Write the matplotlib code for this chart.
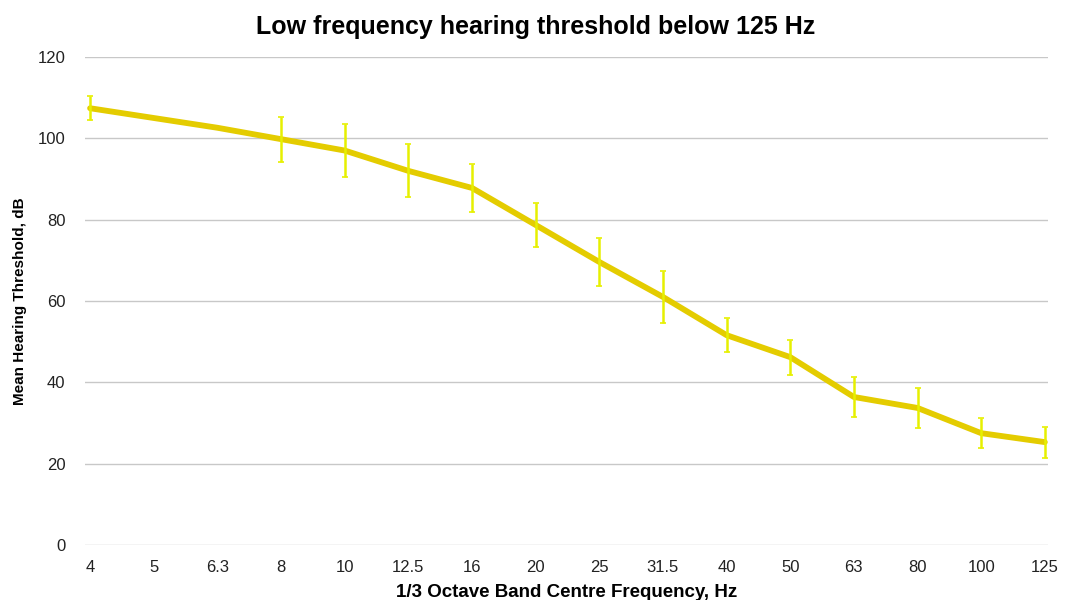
import matplotlib
matplotlib.use('Agg')
import matplotlib.pyplot as plt

plt.rcParams['font.family'] = ['Liberation Sans', 'DejaVu Sans']

# 1/3 octave band centre frequencies and mean thresholds
freq_labels = ['4', '5', '6.3', '8', '10', '12.5', '16', '20', '25', '31.5',
               '40', '50', '63', '80', '100', '125']
threshold = [107.4, 105.0, 102.6, 99.8, 97.0, 92.0, 87.8, 78.7, 69.6, 61.0,
             51.6, 46.2, 36.4, 33.7, 27.5, 25.3]
# error bar half-widths; no bars shown at 5 and 6.3 Hz
err = [3.0, None, None, 5.5, 6.5, 6.5, 6.0, 5.4, 6.0, 6.4,
       4.2, 4.3, 5.0, 5.0, 3.7, 3.8]

x = list(range(len(freq_labels)))

fig = plt.figure(figsize=(10.67, 6), dpi=100)
ax = fig.add_axes([85 / 1067, 55 / 600, 963 / 1067, 488 / 600])

# gridlines
ax.set_yticks(range(0, 121, 20))
ax.yaxis.grid(True, color='#c8c8c8', linewidth=1)
ax.set_axisbelow(True)

# main line
ax.plot(x, threshold, color='#e4cc00', linewidth=4.2, solid_joinstyle='round',
        solid_capstyle='round', zorder=3)

# error bars
ex = [xi for xi, e in zip(x, err) if e is not None]
ey = [t for t, e in zip(threshold, err) if e is not None]
ee = [e for e in err if e is not None]
ax.errorbar(ex, ey, yerr=ee, fmt='none', ecolor='#e6f000', elinewidth=1.8,
            capsize=2, capthick=1.2, zorder=4)

ax.set_xlim(-0.08, 15.05)
ax.set_ylim(0, 120)
ax.set_xticks(x)
ax.set_xticklabels(freq_labels)

for s in ax.spines.values():
    s.set_visible(False)
ax.tick_params(axis='both', length=0, labelsize=12, colors='#222222')
ax.tick_params(axis='x', pad=11)
ax.tick_params(axis='y', pad=14)

ax.set_xlabel('1/3 Octave Band Centre Frequency, Hz', fontsize=13.5,
              fontweight='bold', labelpad=6)
ax.set_ylabel('Mean Hearing Threshold, dB', fontsize=11, fontweight='bold',
              labelpad=8)
fig.text(536 / 1067, 1 - 27 / 600, 'Low frequency hearing threshold below 125 Hz',
         ha='center', va='center', fontsize=18, fontweight='bold')

plt.savefig('out.png', dpi=100)
